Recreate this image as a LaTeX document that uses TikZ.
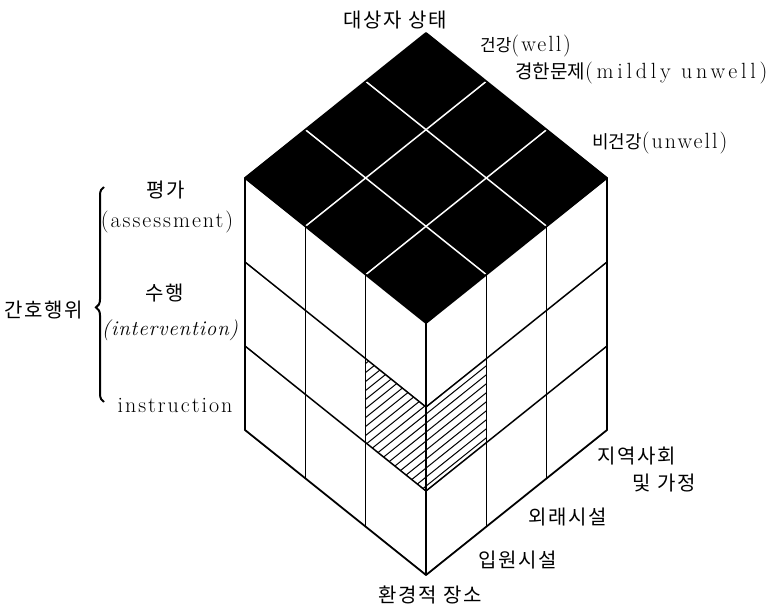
\documentclass[tikz,border=0pt]{standalone}
\usepackage{fontspec}
\setmainfont{Latin Modern Roman}[LetterSpace=9]
\newfontfamily\latit{Latin Modern Roman}[LetterSpace=4]
\newfontfamily\latwide{Latin Modern Roman}[LetterSpace=17]
\newfontfamily\kr{Noto Sans CJK KR}[LetterSpace=8]
\newfontfamily\krn{Noto Sans CJK KR}
\usetikzlibrary{calc,decorations.pathreplacing}
\begin{document}
\begin{tikzpicture}[x=1pt,y=-1pt,
  kor/.style={font=\kr\fontsize{20}{24}\selectfont,inner sep=0pt},
  lat/.style={font=\fontsize{22}{26}\selectfont,inner sep=0pt},
  edge/.style={line width=1.8pt,line join=round,line cap=round},
  inner/.style={line width=1.5pt,line cap=round},
  topgrid/.style={white,line width=1.5pt},
  hatch/.style={line width=1pt}]
\useasboundingbox (0,0) rectangle (770,609);
% cube corners
\coordinate (T) at (426,33);
\coordinate (L) at (245,178);
\coordinate (R) at (607,178);
\coordinate (F) at (426,323);
\coordinate (LB) at (245,430);
\coordinate (RB) at (607,430);
\coordinate (B) at (426,575);
% top face
\fill[black] (T) -- (R) -- (F) -- (L) -- cycle;
\foreach \k in {1,2} {
  \draw[topgrid] ($(T)!\k/3!(L)$) -- ($(R)!\k/3!(F)$);
  \draw[topgrid] ($(T)!\k/3!(R)$) -- ($(L)!\k/3!(F)$);
}
% hatched cells
\coordinate (h1) at (365.67,358.67);
\coordinate (h2) at (426,407);
\coordinate (h3) at (426,491);
\coordinate (h4) at (365.67,442.67);
\coordinate (h5) at (486.33,358.67);
\coordinate (h6) at (486.33,442.67);
\begin{scope}
  \clip (h1) -- (h2) -- (h5) -- (h6) -- (h3) -- (h4) -- cycle;
  \foreach \k in {0,...,28} \draw[hatch] (350,358+\k*9) -- ++(150,-120.2);
\end{scope}
% side grids
\foreach \k in {1,2} {
  \draw[inner] ($(L)!\k/3!(F)$) -- ($(LB)!\k/3!(B)$);
  \draw[inner] ($(L)!\k/3!(LB)$) -- ($(F)!\k/3!(B)$);
  \draw[inner] ($(F)!\k/3!(R)$) -- ($(B)!\k/3!(RB)$);
  \draw[inner] ($(R)!\k/3!(RB)$) -- ($(F)!\k/3!(B)$);
}
% outline
\draw[edge] (T) -- (R) -- (RB) -- (B) -- (LB) -- (L) -- cycle;
\draw[edge] (L) -- (F) -- (R);
\draw[edge] (F) -- (B);
% top labels
\node[kor] (state) at (395,20) {대상자 상태};
\node[lat,anchor=west] (well) at (480,46) {{\krn\fontsize{17}{20}\selectfont 건강}(well)};
\node[lat,anchor=west,font=\latwide\fontsize{22}{26}\selectfont] (mild) at (515,73) {{\krn\fontsize{19}{22}\selectfont 경한문제}(mildly unwell)};
\node[lat,anchor=west] (unwell) at (592,143) {{\krn\fontsize{18}{22}\selectfont 비건강}(unwell)};
% left labels
\node[kor] (eval) at (166,190) {평가};
\node[lat] (assess) at (167,222) {(assessment)};
\node[kor] (perf) at (165,293) {수행};
\node[lat,font=\latit\fontsize{21}{24}\selectfont\itshape] (interv) at (170,330) {(intervention)};
\node[lat] (instr) at (175,405) {instruction};
\node[kor] (nursing) at (44,310) {간호행위};
\coordinate (brB) at (104,402);
\coordinate (brT) at (104,187);
\draw[line width=2pt,decorate,decoration={brace,amplitude=8pt,aspect=0.44}] (brB) -- (brT);
% bottom labels
\node[kor] (comm1) at (637,456) {지역사회};
\node[kor] (comm2) at (664,483) {및 가정};
\node[kor] (outp) at (568,517) {외래시설};
\node[kor] (inp) at (518,560) {입원시설};
\node[kor] (place) at (430,595) {환경적 장소};
\end{tikzpicture}
\end{document}
